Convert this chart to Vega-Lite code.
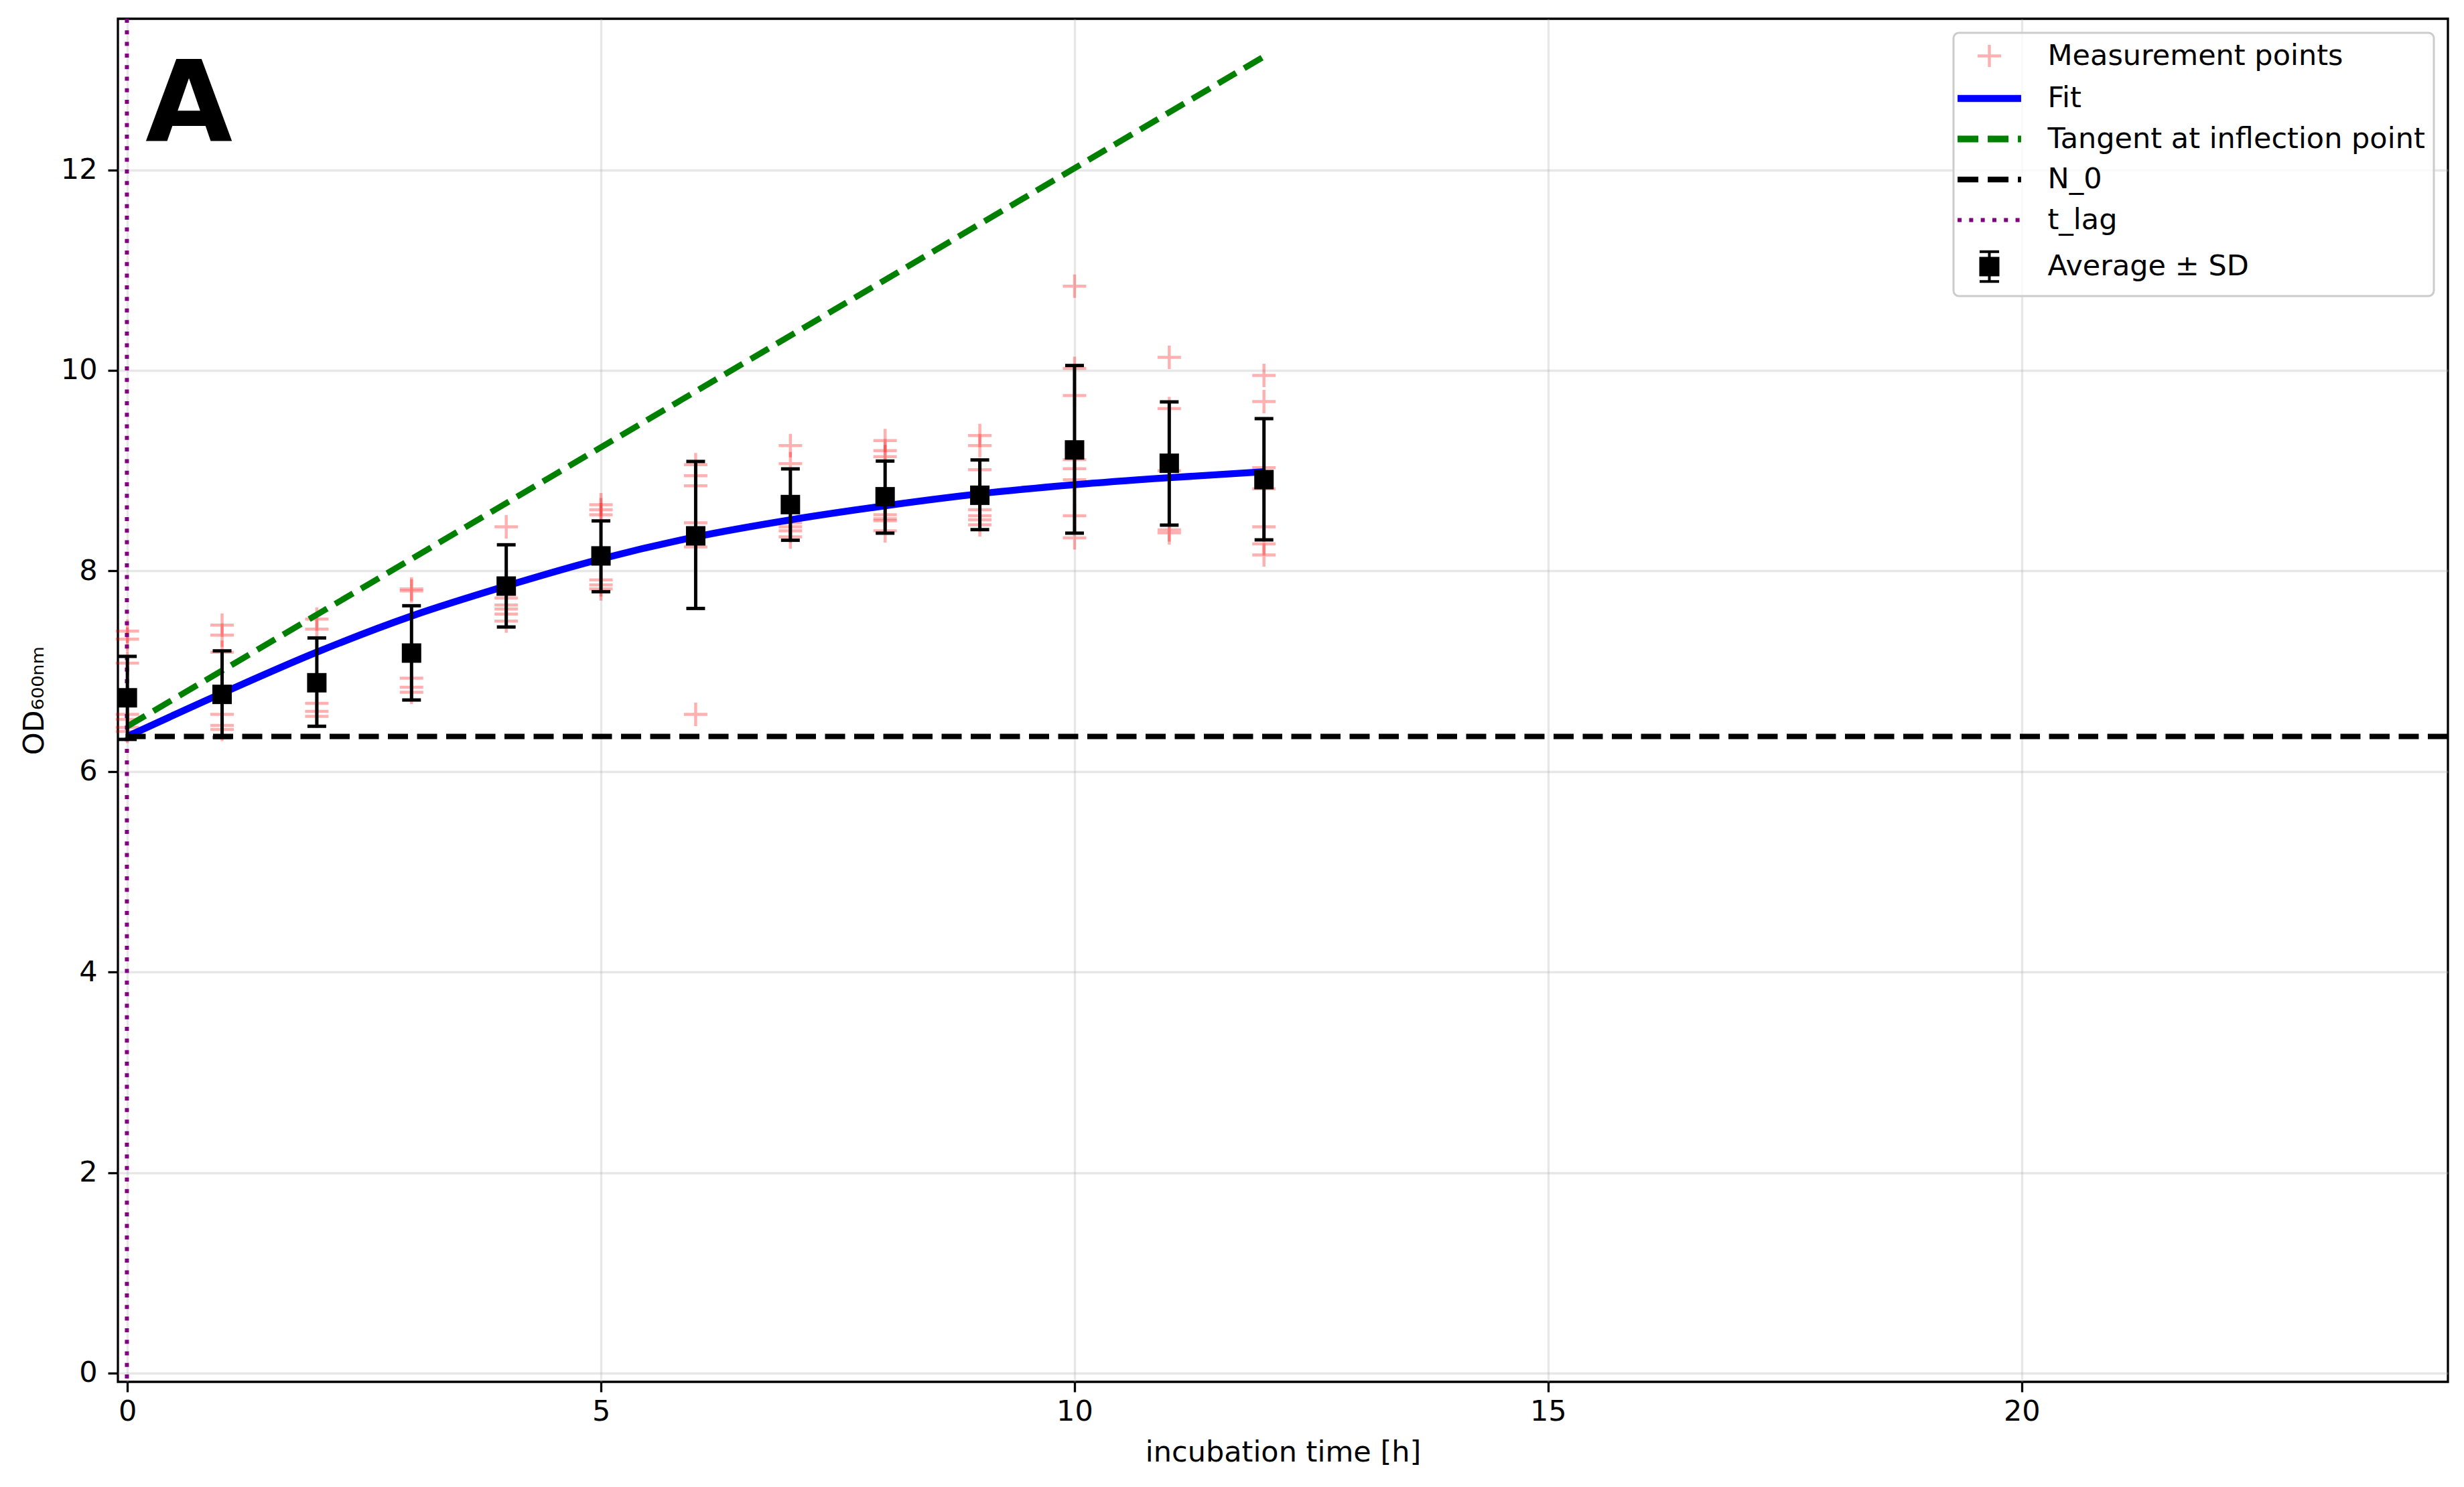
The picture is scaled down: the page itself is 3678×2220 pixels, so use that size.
{
  "$schema": "https://vega.github.io/schema/vega-lite/v6.json",
  "autosize": {"type": "none"},
  "padding": {"left": 176, "top": 28, "right": 24, "bottom": 157},
  "width": 3478,
  "height": 2035,
  "background": "white",
  "datasets": {
    "pts": [
      {"t": 0, "od": 7.40, "series": "Measurement points"},
      {"t": 0, "od": 7.32, "series": "Measurement points"},
      {"t": 0, "od": 7.08, "series": "Measurement points"},
      {"t": 0, "od": 6.57, "series": "Measurement points"},
      {"t": 0, "od": 6.52, "series": "Measurement points"},
      {"t": 0, "od": 6.44, "series": "Measurement points"},
      {"t": 0, "od": 6.40, "series": "Measurement points"},
      {"t": 1, "od": 7.46, "series": "Measurement points"},
      {"t": 1, "od": 7.36, "series": "Measurement points"},
      {"t": 1, "od": 7.19, "series": "Measurement points"},
      {"t": 1, "od": 6.57, "series": "Measurement points"},
      {"t": 1, "od": 6.46, "series": "Measurement points"},
      {"t": 1, "od": 6.42, "series": "Measurement points"},
      {"t": 2, "od": 7.52, "series": "Measurement points"},
      {"t": 2, "od": 7.42, "series": "Measurement points"},
      {"t": 2, "od": 6.68, "series": "Measurement points"},
      {"t": 2, "od": 6.60, "series": "Measurement points"},
      {"t": 2, "od": 6.55, "series": "Measurement points"},
      {"t": 3, "od": 7.82, "series": "Measurement points"},
      {"t": 3, "od": 7.80, "series": "Measurement points"},
      {"t": 3, "od": 6.93, "series": "Measurement points"},
      {"t": 3, "od": 6.84, "series": "Measurement points"},
      {"t": 3, "od": 6.79, "series": "Measurement points"},
      {"t": 4, "od": 8.44, "series": "Measurement points"},
      {"t": 4, "od": 7.73, "series": "Measurement points"},
      {"t": 4, "od": 7.66, "series": "Measurement points"},
      {"t": 4, "od": 7.62, "series": "Measurement points"},
      {"t": 4, "od": 7.57, "series": "Measurement points"},
      {"t": 4, "od": 7.50, "series": "Measurement points"},
      {"t": 5, "od": 8.66, "series": "Measurement points"},
      {"t": 5, "od": 8.61, "series": "Measurement points"},
      {"t": 5, "od": 8.56, "series": "Measurement points"},
      {"t": 5, "od": 7.91, "series": "Measurement points"},
      {"t": 5, "od": 7.86, "series": "Measurement points"},
      {"t": 5, "od": 7.82, "series": "Measurement points"},
      {"t": 6, "od": 9.06, "series": "Measurement points"},
      {"t": 6, "od": 8.95, "series": "Measurement points"},
      {"t": 6, "od": 8.85, "series": "Measurement points"},
      {"t": 6, "od": 8.48, "series": "Measurement points"},
      {"t": 6, "od": 8.24, "series": "Measurement points"},
      {"t": 6, "od": 6.57, "series": "Measurement points"},
      {"t": 7, "od": 9.25, "series": "Measurement points"},
      {"t": 7, "od": 9.07, "series": "Measurement points"},
      {"t": 7, "od": 8.48, "series": "Measurement points"},
      {"t": 7, "od": 8.44, "series": "Measurement points"},
      {"t": 7, "od": 8.40, "series": "Measurement points"},
      {"t": 7, "od": 8.34, "series": "Measurement points"},
      {"t": 8, "od": 9.30, "series": "Measurement points"},
      {"t": 8, "od": 9.20, "series": "Measurement points"},
      {"t": 8, "od": 9.14, "series": "Measurement points"},
      {"t": 8, "od": 8.56, "series": "Measurement points"},
      {"t": 8, "od": 8.52, "series": "Measurement points"},
      {"t": 8, "od": 8.50, "series": "Measurement points"},
      {"t": 8, "od": 8.40, "series": "Measurement points"},
      {"t": 9, "od": 9.35, "series": "Measurement points"},
      {"t": 9, "od": 9.25, "series": "Measurement points"},
      {"t": 9, "od": 9.01, "series": "Measurement points"},
      {"t": 9, "od": 8.61, "series": "Measurement points"},
      {"t": 9, "od": 8.55, "series": "Measurement points"},
      {"t": 9, "od": 8.51, "series": "Measurement points"},
      {"t": 9, "od": 8.46, "series": "Measurement points"},
      {"t": 10, "od": 10.84, "series": "Measurement points"},
      {"t": 10, "od": 10.02, "series": "Measurement points"},
      {"t": 10, "od": 9.75, "series": "Measurement points"},
      {"t": 10, "od": 9.11, "series": "Measurement points"},
      {"t": 10, "od": 9.02, "series": "Measurement points"},
      {"t": 10, "od": 8.91, "series": "Measurement points"},
      {"t": 10, "od": 8.55, "series": "Measurement points"},
      {"t": 10, "od": 8.33, "series": "Measurement points"},
      {"t": 11, "od": 10.13, "series": "Measurement points"},
      {"t": 11, "od": 9.62, "series": "Measurement points"},
      {"t": 11, "od": 9.00, "series": "Measurement points"},
      {"t": 11, "od": 8.41, "series": "Measurement points"},
      {"t": 11, "od": 8.38, "series": "Measurement points"},
      {"t": 12, "od": 9.95, "series": "Measurement points"},
      {"t": 12, "od": 9.69, "series": "Measurement points"},
      {"t": 12, "od": 9.03, "series": "Measurement points"},
      {"t": 12, "od": 8.82, "series": "Measurement points"},
      {"t": 12, "od": 8.44, "series": "Measurement points"},
      {"t": 12, "od": 8.27, "series": "Measurement points"},
      {"t": 12, "od": 8.16, "series": "Measurement points"}
    ],
    "fit": [
      {"t": 0, "od": 6.35, "series": "Fit"},
      {"t": 1, "od": 6.78, "series": "Fit"},
      {"t": 2, "od": 7.19, "series": "Fit"},
      {"t": 3, "od": 7.55, "series": "Fit"},
      {"t": 4, "od": 7.85, "series": "Fit"},
      {"t": 5, "od": 8.12, "series": "Fit"},
      {"t": 6, "od": 8.34, "series": "Fit"},
      {"t": 7, "od": 8.51, "series": "Fit"},
      {"t": 8, "od": 8.65, "series": "Fit"},
      {"t": 9, "od": 8.77, "series": "Fit"},
      {"t": 10, "od": 8.86, "series": "Fit"},
      {"t": 11, "od": 8.93, "series": "Fit"},
      {"t": 12, "od": 8.99, "series": "Fit"}
    ],
    "tangent": [
      {"t": 0, "od": 6.45, "series": "Tangent at inflection point"},
      {"t": 12, "od": 13.13, "series": "Tangent at inflection point"}
    ],
    "n0": [{"od": 6.35, "series": "N_0"}],
    "tlag": [{"t": -0.005, "series": "t_lag"}],
    "avg": [
      {"t": 0, "mean": 6.735, "lo": 6.32, "hi": 7.148, "series": "Average ± SD"},
      {"t": 1, "mean": 6.769, "lo": 6.34, "hi": 7.203, "series": "Average ± SD"},
      {"t": 2, "mean": 6.885, "lo": 6.451, "hi": 7.332, "series": "Average ± SD"},
      {"t": 3, "mean": 7.181, "lo": 6.713, "hi": 7.653, "series": "Average ± SD"},
      {"t": 4, "mean": 7.849, "lo": 7.441, "hi": 8.261, "series": "Average ± SD"},
      {"t": 5, "mean": 8.15, "lo": 7.793, "hi": 8.499, "series": "Average ± SD"},
      {"t": 6, "mean": 8.35, "lo": 7.626, "hi": 9.092, "series": "Average ± SD"},
      {"t": 7, "mean": 8.662, "lo": 8.306, "hi": 9.018, "series": "Average ± SD"},
      {"t": 8, "mean": 8.74, "lo": 8.377, "hi": 9.096, "series": "Average ± SD"},
      {"t": 9, "mean": 8.755, "lo": 8.412, "hi": 9.107, "series": "Average ± SD"},
      {"t": 10, "mean": 9.207, "lo": 8.377, "hi": 10.049, "series": "Average ± SD"},
      {"t": 11, "mean": 9.074, "lo": 8.457, "hi": 9.686, "series": "Average ± SD"},
      {"t": 12, "mean": 8.911, "lo": 8.31, "hi": 9.519, "series": "Average ± SD"}
    ],
    "label": [{"t": 0.19, "od": 12.29, "txt": "A"}]
  },
  "encoding": {
    "color": {
      "field": "series",
      "type": "nominal",
      "scale": {
        "domain": ["Measurement points", "Fit", "Tangent at inflection point", "N_0", "t_lag", "Average ± SD"],
        "range": ["#ff0000", "#0000ff", "#008000", "#000000", "#800080", "#000000"]
      },
      "legend": {
        "title": null,
        "orient": "top-right",
        "offset": 21,
        "padding": 13,
        "fillColor": "rgba(255,255,255,0.8)",
        "strokeColor": "#cccccc",
        "cornerRadius": 8,
        "labelFont": "DejaVu Sans",
        "labelFontSize": 43,
        "labelColor": "#000000",
        "labelOffset": 65.5,
        "labelLimit": 2000,
        "rowPadding": 16.5,
        "symbolSize": 3844,
        "symbolOffset": 19,
        "encode": {
          "symbols": {
            "update": {
              "shape": {"signal": "datum.value === 'Measurement points' ? 'M-0.565,0H0.565M0,-0.53V0.53' : datum.value === 'Average ± SD' ? 'M-0.42,-0.4H0.42V0.4H-0.42Z M0,-0.72V0.72 M-0.47,-0.72H0.47 M-0.47,0.72H0.47' : 'M-1.53,0H1.53'"},
              "stroke": {"signal": "scale('color', datum.value)"},
              "fill": {"signal": "datum.value === 'Average ± SD' ? '#000000' : 'transparent'"},
              "strokeWidth": {"signal": "datum.value === 'Measurement points' ? 4.5 : datum.value === 'Fit' ? 10.4 : datum.value === 'Tangent at inflection point' ? 10 : datum.value === 'N_0' ? 8.5 : datum.value === 't_lag' ? 6 : 4"},
              "strokeDash": {"signal": "(datum.value === 'Tangent at inflection point' || datum.value === 'N_0') ? [31, 14] : datum.value === 't_lag' ? [6, 11.3] : [1, 0]"},
              "opacity": {"signal": "datum.value === 'Measurement points' ? 0.3 : 1"},
              "size": {"value": 3844}
            }
          }
        }
      }
    }
  },
  "layer": [
    {
      "data": {"name": "pts"},
      "mark": {"type": "point", "shape": "M-1,0H1M0,-1V1", "size": 1225, "filled": false, "strokeWidth": 4.5, "opacity": 0.3},
      "encoding": {
        "x": {"field": "t", "type": "quantitative", "scale": {"domain": [-0.1, 24.5], "nice": false, "zero": false},
          "axis": {"values": [0, 5, 10, 15, 20], "format": "d", "title": "incubation time [h]", "labelPadding": 8, "titlePadding": 18}},
        "y": {"field": "od", "type": "quantitative", "scale": {"domain": [-0.087, 13.507], "nice": false, "zero": false},
          "axis": {"values": [0, 2, 4, 6, 8, 10, 12], "format": "d", "title": "OD₆₀₀ₙₘ", "labelPadding": 16, "titlePadding": 17}}
      }
    },
    {
      "data": {"name": "fit"},
      "mark": {"type": "line", "strokeWidth": 10.4, "interpolate": "monotone"},
      "encoding": {"x": {"field": "t", "type": "quantitative"}, "y": {"field": "od", "type": "quantitative"}}
    },
    {
      "data": {"name": "tangent"},
      "mark": {"type": "line", "strokeWidth": 9, "strokeDash": [31, 14]},
      "encoding": {"x": {"field": "t", "type": "quantitative"}, "y": {"field": "od", "type": "quantitative"}}
    },
    {
      "data": {"name": "n0"},
      "mark": {"type": "rule", "strokeWidth": 8, "strokeDash": [30, 13.5]},
      "encoding": {"y": {"field": "od", "type": "quantitative"}}
    },
    {
      "data": {"name": "tlag"},
      "mark": {"type": "rule", "strokeWidth": 6, "strokeDash": [6, 11.3]},
      "encoding": {"x": {"field": "t", "type": "quantitative"}}
    },
    {
      "data": {"name": "avg"},
      "mark": {"type": "rule", "strokeWidth": 5},
      "encoding": {"x": {"field": "t", "type": "quantitative"}, "y": {"field": "lo", "type": "quantitative"}, "y2": {"field": "hi"}}
    },
    {
      "data": {"name": "avg"},
      "mark": {"type": "tick", "orient": "horizontal", "size": 28, "thickness": 5, "opacity": 1},
      "encoding": {"x": {"field": "t", "type": "quantitative"}, "y": {"field": "lo", "type": "quantitative"}}
    },
    {
      "data": {"name": "avg"},
      "mark": {"type": "tick", "orient": "horizontal", "size": 28, "thickness": 5, "opacity": 1},
      "encoding": {"x": {"field": "t", "type": "quantitative"}, "y": {"field": "hi", "type": "quantitative"}}
    },
    {
      "data": {"name": "avg"},
      "mark": {"type": "point", "shape": "square", "filled": true, "size": 841, "opacity": 1},
      "encoding": {"x": {"field": "t", "type": "quantitative"}, "y": {"field": "mean", "type": "quantitative"}}
    },
    {
      "data": {"name": "label"},
      "mark": {"type": "text", "font": "DejaVu Sans", "fontSize": 168, "fontWeight": "bold", "align": "left", "baseline": "alphabetic"},
      "encoding": {
        "x": {"field": "t", "type": "quantitative"},
        "y": {"field": "od", "type": "quantitative"},
        "text": {"field": "txt"},
        "color": {"value": "#000000"}
      }
    }
  ],
  "config": {
    "view": {"stroke": "#000000", "strokeWidth": 3.3},
    "legend": {"strokeWidth": 3},
    "axis": {
      "domain": false,
      "grid": true,
      "gridColor": "#b0b0b0",
      "gridOpacity": 0.3,
      "gridWidth": 3.3,
      "ticks": true,
      "tickColor": "#000000",
      "tickWidth": 3.3,
      "tickSize": 15,
      "labelFont": "DejaVu Sans",
      "labelFontSize": 43,
      "labelColor": "#000000",
      "titleFont": "DejaVu Sans",
      "titleFontSize": 43,
      "titleFontWeight": "normal",
      "titleColor": "#000000"
    }
  }
}
